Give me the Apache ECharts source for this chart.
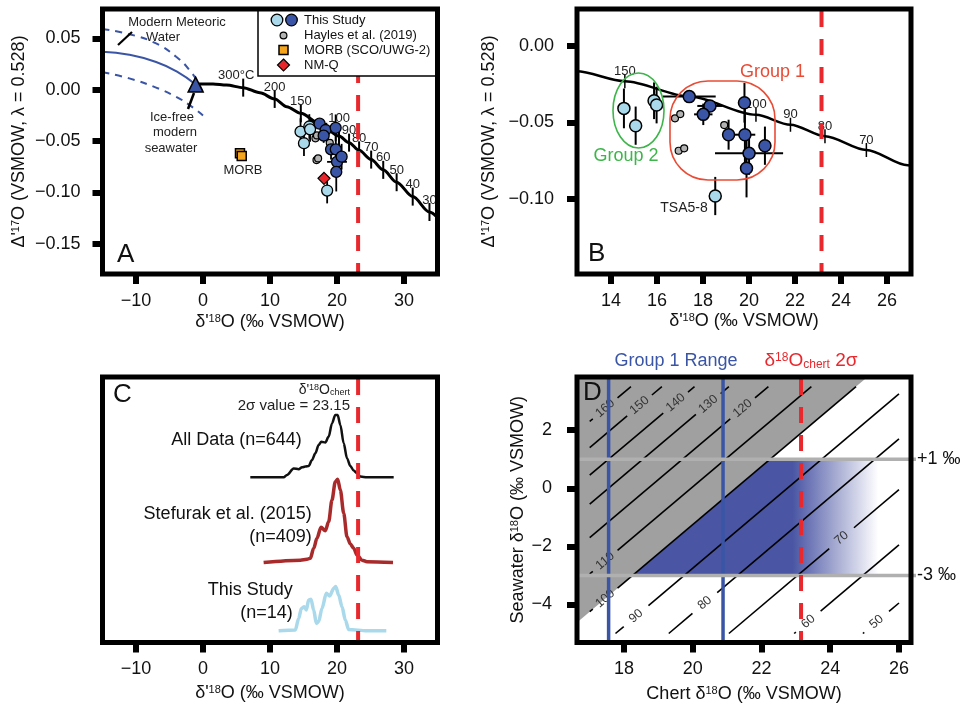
<!DOCTYPE html>
<html>
<head>
<meta charset="utf-8">
<script src="https://cdn.jsdelivr.net/npm/echarts@6/dist/echarts.min.js"></script>
<style>
  html, body { margin: 0; padding: 0; background: #fff; }
  #chart { width: 963px; height: 710px; }
</style>
</head>
<body>
<div id="chart"></div>
<script>
// ---------- data ----------
// This Study, light blue (Group 2 and TSA5-8)
const lightD18 = [14.56, 15.07, 15.87, 15.98, 18.53];
const lightD17 = [-0.0408, -0.0521, -0.0358, -0.0386, -0.0981];
const lightErrX = [0, 0, 0, 0, 0];
const lightErrY = [0.013, 0.0125, 0.012, 0.012, 0.0125];
// This Study, dark blue (Group 1)
const darkD18 = [17.40, 18.30, 18.01, 19.80, 19.11, 19.82, 20.00, 20.69, 19.89];
const darkD17 = [-0.0331, -0.0392, -0.0447, -0.0371, -0.0580, -0.0580, -0.0702, -0.0652, -0.0800];
const darkErrX = [1.15, 0.55, 0.4, 0, 0, 0.45, 1.48, 0, 0];
const darkErrY = [0.002, 0.002, 0.007, 0.013, 0.0098, 0.02, 0.014, 0.0125, 0.019];
// Hayles et al. (2019)
const haylesD18 = [16.78, 17.01, 16.94, 17.18, 18.92];
const haylesD17 = [-0.0473, -0.0445, -0.0685, -0.0669, -0.0517];
// MORB (SCO/UWG-2) and NM-Q
const morbD18 = [5.52, 5.78];
const morbD17 = [-0.0619, -0.0645];
const nmqD18 = [18.06];
const nmqD17 = [-0.0862];
// ice-free modern seawater
const seawaterD18 = [-1.1];
const seawaterD17 = [0.005];
// quartz-water equilibrium curve with temperature marks
const eqD18 = [-1.0, 1.5, 3.5, 6.0, 8.5, 10.7, 12.5, 14.6, 17.4, 20.3, 21.8, 23.3, 25.1, 26.9, 28.9, 31.3, 33.8, 35.5];
const eqD17 = [0.0055, 0.0055, 0.0045, 0.002, -0.003, -0.009, -0.0165, -0.023, -0.033, -0.045, -0.0515, -0.059, -0.068, -0.078, -0.090, -0.104, -0.119, -0.128];
const eqTemp = ['', '', '', '300°C', '', '200', '', '150', '', '100', '90', '80', '70', '60', '50', '40', '30', ''];
// modern meteoric water (centre and envelope)
const mwlD18 = [-15, -11, -7, -4, -1.1];
const mwlD17 = [0.037, 0.034, 0.027, 0.018, 0.005];
const mwlHiD18 = [-15, -11, -7, -4, -2, -0.5, 0.2];
const mwlHiD17 = [0.059, 0.054, 0.045, 0.032, 0.019, 0.004, -0.006];
const mwlLoD18 = [-15, -11, -7, -4, -2, 0];
const mwlLoD17 = [0.017, 0.011, 0.002, -0.007, -0.015, -0.025];
const chert2s = 23.15;
// panel C density curves (relative height, stacked)
const kdeAllX = [7.06, 12.04, 12.54, 13.53, 14.28, 14.78, 15.27, 15.77, 16.27, 16.77, 17.26, 17.66, 18.26, 18.76, 19.25, 19.75, 20.10, 20.50, 21.0, 21.49, 21.99, 22.49, 22.99, 23.48, 24.48, 28.46];
const kdeAllY = [61.8, 61.8, 62.7, 65.1, 64.8, 65.5, 65.8, 66.0, 68.2, 70.7, 73.8, 75.0, 74.7, 76.9, 81.8, 84.9, 84.9, 81.2, 74.4, 68.9, 66.0, 64.3, 63.3, 62.1, 61.8, 61.8];
const kdeStefX = [9.05, 14.53, 15.52, 16.02, 16.52, 17.01, 17.61, 18.26, 18.76, 19.25, 19.75, 20.10, 20.50, 21.0, 21.49, 21.99, 22.49, 22.99, 23.73, 24.48, 28.36];
const kdeStefY = [30.2, 31.1, 31.4, 31.8, 35.5, 39.2, 43.3, 42.0, 45.4, 53.4, 60.2, 61.1, 57.1, 48.5, 39.8, 37.1, 35.5, 33.0, 31.1, 30.5, 30.2];
const kdeThisX = [11.29, 13.78, 14.28, 14.68, 15.12, 15.42, 15.77, 16.12, 16.52, 16.92, 17.26, 17.76, 18.41, 18.91, 19.50, 19.80, 20.25, 20.75, 21.24, 21.74, 24.48, 27.36];
const kdeThisY = [4.9, 5.2, 9.5, 13.2, 13.8, 12.6, 16.3, 16.6, 12.6, 7.7, 8.3, 13.2, 18.8, 17.8, 20.6, 21.3, 18.2, 13.8, 8.9, 5.4, 4.9, 4.9];
// panel D isotherms: chert - seawater offset for each temperature
const contourT = [160, 150, 140, 130, 120, 110, 100, 90, 80, 70, 60, 50];
const contourDelta = [14.7, 15.6, 16.55, 17.55, 18.7, 19.95, 21.25, 22.75, 24.3, 26.05, 27.95, 29.95];
const contourLabelX = [17.45, 18.45, 19.5, 20.45, 21.45, 17.45, 17.45, 18.35, 20.35, 24.33, 23.36, 25.35];
const hotDelta = 21.25;            // >100 °C shaded grey
const group1Range = [17.55, 20.88];
const seawaterRange = [-3, 1];
const seawaterLabels = ['-3 ‰', '+1 ‰'];
const blueFade = [22.9, 25.4];

// ---------- layout ----------
const FONT = 'Liberation Sans, Arial, Helvetica, sans-serif';
const G = [
  { left: 102.5, top: 9, width: 335, height: 265 },
  { left: 577, top: 9, width: 334, height: 265 },
  { left: 102.5, top: 377, width: 335, height: 265.5 },
  { left: 577, top: 377, width: 334, height: 265.5 },
];
const extX = [[-15, 35], [12.52, 27.04], [-15, 35], [16.63, 26.35]];
const extY = [[-0.1793, 0.0785], [-0.1491, 0.0242], [0.56, 99], [-5.31, 3.83]];
const boxX = [17, 26], boxY = [-5, 3.5];

const BLUE = '#3a55a6', LIGHT = '#a9d9ea', RED = '#e8282d';

function fmt(dec) {
  return (v) => (v < 0 ? '\u2212' : '') + Math.abs(v).toFixed(dec);
}
const nameRich = {
  n: { fontSize: 18, fontFamily: FONT, color: '#111' },
  s: { fontSize: 11, fontFamily: FONT, color: '#111', verticalAlign: 'top' },
};

function xAxisOf(i, ticks, dec, name, gap) {
  return {
    type: 'value', gridIndex: i, min: extX[i][0], max: extX[i][1],
    axisLine: { show: false, onZero: false },
    axisTick: { show: true, length: 10, lineStyle: { width: 6, color: '#000' }, customValues: ticks },
    axisLabel: { fontSize: 18, fontFamily: FONT, color: '#111', margin: 18, customValues: ticks, formatter: fmt(dec) },
    splitLine: { show: false },
    name: name, nameLocation: 'middle', nameGap: gap,
    nameTextStyle: { fontSize: 18, fontFamily: FONT, rich: nameRich },
  };
}
function yAxisOf(i, ticks, dec, name, gap, margin) {
  if (!ticks) return { type: 'value', gridIndex: i, min: extY[i][0], max: extY[i][1], show: false };
  return {
    type: 'value', gridIndex: i, min: extY[i][0], max: extY[i][1],
    axisLine: { show: false, onZero: false },
    axisTick: { show: true, length: 10, lineStyle: { width: 6, color: '#000' }, customValues: ticks },
    axisLabel: { fontSize: 18, fontFamily: FONT, color: '#111', margin: margin, customValues: ticks, formatter: fmt(dec) },
    splitLine: { show: false },
    name: name, nameLocation: 'middle', nameGap: gap,
    nameTextStyle: { fontSize: 18, fontFamily: FONT, rich: nameRich },
  };
}

function pairs(xs, ys) { return xs.map((x, i) => [x, ys[i]]); }

function lineSeries(i, xs, ys, style, z, smooth, mono) {
  return {
    type: 'line', xAxisIndex: i, yAxisIndex: i, data: pairs(xs, ys), z: z,
    showSymbol: false, symbol: 'none', smooth: smooth, smoothMonotone: mono ? 'x' : null, clip: true,
    lineStyle: style, silent: true,
  };
}

function scatterSeries(i, xs, ys, symbol, size, color, bw, z) {
  return {
    type: 'scatter', xAxisIndex: i, yAxisIndex: i, data: pairs(xs, ys), z: z,
    symbol: symbol, symbolSize: size,
    itemStyle: { color: color, borderColor: '#000', borderWidth: bw, opacity: 1 },
    silent: true, clip: true,
  };
}

function errorBars(i, lw) {
  const xs = lightD18.concat(darkD18), ys = lightD17.concat(darkD17);
  const ex = lightErrX.concat(darkErrX), ey = lightErrY.concat(darkErrY);
  return {
    type: 'custom', xAxisIndex: i, yAxisIndex: i, z: 3, clip: true, silent: true,
    data: xs.map((x, k) => [x, ys[k], ex[k], ey[k]]),
    renderItem: (params, api) => {
      const x = api.value(0), y = api.value(1), dx = api.value(2), dy = api.value(3);
      const kids = [];
      const st = { stroke: '#000', lineWidth: lw };
      if (dx > 0) {
        const a = api.coord([x - dx, y]), b = api.coord([x + dx, y]);
        kids.push({ type: 'line', shape: { x1: a[0], y1: a[1], x2: b[0], y2: b[1] }, style: st });
      }
      if (dy > 0) {
        const a = api.coord([x, y - dy]), b = api.coord([x, y + dy]);
        kids.push({ type: 'line', shape: { x1: a[0], y1: a[1], x2: b[0], y2: b[1] }, style: st });
      }
      return { type: 'group', children: kids };
    },
  };
}

function curveTicks(i, o) {
  const idx = eqTemp.map((t, k) => k).filter(k => eqTemp[k] && eqD18[k] >= o.lo && eqD18[k] <= o.hi);
  return {
    type: 'custom', xAxisIndex: i, yAxisIndex: i, z: 3, silent: true,
    data: idx.map(k => [eqD18[k], eqD17[k]]),
    renderItem: (params, api) => {
      const t = eqTemp[idx[params.dataIndex]];
      const p = api.coord([api.value(0), api.value(1)]);
      const off = (o.shift && o.shift[t]) || [0, 0];
      return {
        type: 'group', children: [
          { type: 'line', shape: { x1: p[0], y1: p[1] - o.half, x2: p[0], y2: p[1] + o.half }, style: { stroke: '#000', lineWidth: o.lw } },
          { type: 'text', x: p[0] + off[0], y: p[1] - o.dy - off[1],
            style: { text: t, fontSize: o.fs, fontFamily: FONT, fill: '#222', align: 'center', verticalAlign: 'middle' } },
        ],
      };
    },
  };
}

function vLines(i, xs, style, z) {
  return {
    type: 'custom', xAxisIndex: i, yAxisIndex: i, z: z, silent: true,
    data: xs.map(x => [x, 0]),
    renderItem: (params, api) => {
      const a = api.coord([api.value(0), extY[i][1]]), b = api.coord([api.value(0), extY[i][0]]);
      return { type: 'line', shape: { x1: a[0], y1: a[1] + 2, x2: b[0], y2: b[1] }, style: style };
    },
  };
}
const redDash = { stroke: RED, lineWidth: 4, lineDash: [16, 12] };

// ---------- panel D layers ----------
const hotRegion = {
  type: 'custom', xAxisIndex: 3, yAxisIndex: 3, z: 1, silent: true, data: [[0, 0]],
  renderItem: (params, api) => {
    const pts = [[extX[3][0], extX[3][0] - hotDelta], [extY[3][1] + hotDelta, extY[3][1]], [extX[3][0], extY[3][1]]]
      .map(p => api.coord(p));
    return { type: 'polygon', shape: { points: pts }, style: { fill: '#a0a0a0' } };
  },
};
const group1Region = {
  type: 'custom', xAxisIndex: 3, yAxisIndex: 3, z: 1, silent: true, data: [[0, 0]],
  renderItem: (params, api) => {
    const lo = seawaterRange[0], hi = seawaterRange[1];
    const pts = [[lo + hotDelta, lo], [hi + hotDelta, hi], [blueFade[1], hi], [blueFade[1], lo]].map(p => api.coord(p));
    const s = api.coord([blueFade[0], 0])[0], e = api.coord([blueFade[1], 0])[0];
    const fill = new echarts.graphic.LinearGradient(s, 0, e, 0, [
      { offset: 0, color: '#4a55a4' }, { offset: 1, color: '#ffffff' }], true);
    return { type: 'polygon', shape: { points: pts }, style: { fill: fill } };
  },
};
const isotherms = {
  type: 'custom', xAxisIndex: 3, yAxisIndex: 3, z: 2, silent: true,
  data: contourDelta.map((d, k) => [d, contourLabelX[k]]),
  renderItem: (params, api) => {
    const d = api.value(0), lx = api.value(1), t = contourT[params.dataIndex];
    const x0 = Math.max(boxX[0], boxY[0] + d), x1 = Math.min(boxX[1], boxY[1] + d);
    const gap = 0.36;
    const kids = [[x0, lx - gap], [lx + gap, x1]].filter(s => s[1] > s[0]).map(s => {
      const a = api.coord([s[0], s[0] - d]), b = api.coord([s[1], s[1] - d]);
      return { type: 'line', shape: { x1: a[0], y1: a[1], x2: b[0], y2: b[1] }, style: { stroke: '#000', lineWidth: 1.6 } };
    });
    const p = api.coord([lx, lx - d]);
    const q1 = api.coord([lx - 1, lx - 1 - d]), q2 = api.coord([lx + 1, lx + 1 - d]);
    const rot = Math.atan2(q1[1] - q2[1], q2[0] - q1[0]);
    kids.push({ type: 'text', x: p[0], y: p[1], rotation: rot,
      style: { text: String(t), fontSize: 12.5, fontFamily: FONT, fill: '#333', align: 'center', verticalAlign: 'middle' } });
    return { type: 'group', children: kids };
  },
};
const seawaterLines = {
  type: 'custom', xAxisIndex: 3, yAxisIndex: 3, z: 4, silent: true,
  data: seawaterRange.map(v => [extX[3][0], v]),
  renderItem: (params, api) => {
    const v = api.value(1);
    const a = api.coord([extX[3][0], v]), b = api.coord([extX[3][1], v]);
    return {
      type: 'group', children: [
        { type: 'line', shape: { x1: a[0], y1: a[1], x2: b[0] + 5, y2: b[1] }, style: { stroke: '#b0b0b0', lineWidth: 3.5 } },
        { type: 'text', x: b[0] + 6, y: b[1], style: { text: seawaterLabels[params.dataIndex], fontSize: 18, fontFamily: FONT, fill: '#111', align: 'left', verticalAlign: 'middle' } },
      ],
    };
  },
};

// ---------- graphic (frames, legend, annotations) ----------
function txt(x, y, text, size, color, align, extra) {
  return Object.assign({ type: 'text', x: x, y: y, z: 60,
    style: { text: text, fontSize: size, fontFamily: FONT, fill: color || '#222', align: align || 'center', verticalAlign: 'middle' } }, extra || {});
}
const graphics = [];
G.forEach(g => graphics.push({ type: 'rect', z: 100, shape: { x: g.left, y: g.top, width: g.width, height: g.height },
  style: { fill: 'none', stroke: '#000', lineWidth: 5 } }));
// legend of panel A
graphics.push({ type: 'rect', z: 50, shape: { x: 258, y: 9, width: 179, height: 67 }, style: { fill: '#fff', stroke: '#000', lineWidth: 1.5 } });
graphics.push({ type: 'circle', z: 51, shape: { cx: 277, cy: 20, r: 5.8 }, style: { fill: LIGHT, stroke: '#000', lineWidth: 1.3 } });
graphics.push({ type: 'circle', z: 51, shape: { cx: 291.5, cy: 20, r: 5.8 }, style: { fill: BLUE, stroke: '#000', lineWidth: 1.3 } });
graphics.push({ type: 'circle', z: 51, shape: { cx: 283.5, cy: 35.5, r: 3.4 }, style: { fill: '#b3b3b3', stroke: '#000', lineWidth: 1.2 } });
graphics.push({ type: 'rect', z: 51, shape: { x: 279, y: 45.5, width: 9, height: 9 }, style: { fill: '#f5a41d', stroke: '#000', lineWidth: 1.5 } });
graphics.push({ type: 'polygon', z: 51, shape: { points: [[283.5, 59], [289.5, 65], [283.5, 71], [277.5, 65]] }, style: { fill: '#e8252a', stroke: '#000', lineWidth: 1.2 } });
graphics.push(txt(304, 20, 'This Study', 13, '#111', 'left'));
graphics.push(txt(304, 35, 'Hayles et al. (2019)', 13, '#111', 'left'));
graphics.push(txt(304, 50, 'MORB (SCO/UWG-2)', 13, '#111', 'left'));
graphics.push(txt(304, 65, 'NM-Q', 13, '#111', 'left'));
// panel A notes
graphics.push(txt(117, 255, 'A', 26, '#111', 'left'));
graphics.push(txt(177, 22, 'Modern Meteoric', 13));
graphics.push(txt(163, 37, 'Water', 13));
graphics.push({ type: 'line', z: 60, shape: { x1: 118, y1: 45, x2: 132, y2: 32 }, style: { stroke: '#000', lineWidth: 2.2 } });
graphics.push(txt(172, 117, 'Ice-free', 13));
graphics.push(txt(175, 132, 'modern', 13));
graphics.push(txt(171, 148, 'seawater', 13));
graphics.push({ type: 'line', z: 60, shape: { x1: 194, y1: 93, x2: 188, y2: 109 }, style: { stroke: '#000', lineWidth: 2.5 } });
graphics.push(txt(243, 170, 'MORB', 13));
// panel B notes
graphics.push(txt(588, 254, 'B', 26, '#111', 'left'));
graphics.push({ type: 'ellipse', z: 60, shape: { cx: 638.5, cy: 110.5, rx: 25.5, ry: 37.5 }, style: { fill: 'none', stroke: '#3db54a', lineWidth: 1.6 } });
graphics.push({ type: 'rect', z: 60, shape: { x: 670, y: 81, width: 105, height: 99, r: 38 }, style: { fill: 'none', stroke: '#e94b35', lineWidth: 1.6 } });
graphics.push(txt(772.5, 72.5, 'Group 1', 18, '#e94b35'));
graphics.push(txt(626, 156, 'Group 2', 18, '#3db54a'));
graphics.push(txt(684, 208.5, 'TSA5-8', 14, '#222'));
// panel C notes
graphics.push(txt(113, 395, 'C', 26, '#111', 'left'));
graphics.push({ type: 'text', z: 60, x: 350, y: 390, style: {
  text: "{a|δ'}{s|18}{a|O}{b|chert}", fontFamily: FONT, fill: '#222', align: 'right', verticalAlign: 'middle',
  rich: { a: { fontSize: 14, fontFamily: FONT }, s: { fontSize: 9, fontFamily: FONT, verticalAlign: 'top' }, b: { fontSize: 9, fontFamily: FONT, verticalAlign: 'bottom' } } } });
graphics.push(txt(350, 406, '2σ value = 23.15', 15, '#222', 'right'));
graphics.push(txt(301.7, 440, 'All Data (n=644)', 18, '#111', 'right'));
graphics.push(txt(311.7, 514, 'Stefurak et al. (2015)', 18, '#111', 'right'));
graphics.push(txt(311.7, 537.5, '(n=409)', 18, '#111', 'right'));
graphics.push(txt(292.7, 590, 'This Study', 18, '#111', 'right'));
graphics.push(txt(292.7, 613, '(n=14)', 18, '#111', 'right'));
// panel D notes
graphics.push(txt(583, 393, 'D', 26, '#111', 'left'));
graphics.push(txt(676, 361, 'Group 1 Range', 18, BLUE));
graphics.push({ type: 'text', z: 60, x: 811, y: 361, style: {
  text: '{a|δ}{s|18}{a|O}{b|chert}{a| 2σ}', fontFamily: FONT, fill: RED, align: 'center', verticalAlign: 'middle',
  rich: { a: { fontSize: 19, fontFamily: FONT, color: RED }, s: { fontSize: 12, fontFamily: FONT, color: RED, verticalAlign: 'top' }, b: { fontSize: 12, fontFamily: FONT, color: RED, verticalAlign: 'bottom' } } } });

// ---------- option ----------
const option = {
  backgroundColor: '#fff',
  animation: false,
  textStyle: { fontFamily: FONT },
  grid: G.map(g => Object.assign({ show: false, containLabel: false }, g)),
  xAxis: [
    xAxisOf(0, [-10, 0, 10, 20, 30], 0, "{n|δ'}{s|18}{n|O (‰ VSMOW)}", 39),
    xAxisOf(1, [14, 16, 18, 20, 22, 24, 26], 0, "{n|δ'}{s|18}{n|O (‰ VSMOW)}", 38),
    xAxisOf(2, [-10, 0, 10, 20, 30], 0, "{n|δ'}{s|18}{n|O (‰ VSMOW)}", 42),
    xAxisOf(3, [18, 20, 22, 24, 26], 0, '{n|Chert δ}{s|18}{n|O (‰ VSMOW)}', 43),
  ],
  yAxis: [
    yAxisOf(0, [-0.15, -0.1, -0.05, 0, 0.05], 2, "{n|Δ'}{s|17}{n|O (VSMOW, λ = 0.528)}", 74, 22),
    yAxisOf(1, [-0.15, -0.1, -0.05, 0], 2, "{n|Δ'}{s|17}{n|O (VSMOW, λ = 0.528)}", 79, 23),
    yAxisOf(2, null),
    yAxisOf(3, [-4, -2, 0, 2], 0, '{n|Seawater δ}{s|18}{n|O (‰ VSMOW)}', 50, 25),
  ],
  series: [
    // A
    lineSeries(0, mwlHiD18, mwlHiD17, { color: BLUE, width: 2, type: [7, 6] }, 2, 0.5, false),
    lineSeries(0, mwlD18, mwlD17, { color: BLUE, width: 2 }, 2, 0.5, false),
    lineSeries(0, mwlLoD18, mwlLoD17, { color: BLUE, width: 2, type: [7, 6] }, 2, 0.5, false),
    lineSeries(0, eqD18, eqD17, { color: '#000', width: 3 }, 2, 0.3, true),
    curveTicks(0, { lo: -20, hi: 40, half: 9, dy: 12, fs: 13, lw: 2, shift: { '100': [0, 6], '300°C': [-7, 0] } }),
    errorBars(0, 1.8),
    scatterSeries(0, haylesD18, haylesD17, 'circle', 7, '#b3b3b3', 1.2, 4),
    scatterSeries(0, lightD18, lightD17, 'circle', 11, LIGHT, 1.3, 5),
    scatterSeries(0, darkD18, darkD17, 'circle', 11, BLUE, 1.3, 5),
    scatterSeries(0, morbD18, morbD17, 'rect', 9, '#f5a41d', 1.5, 5),
    scatterSeries(0, nmqD18, nmqD17, 'diamond', 12, '#e8252a', 1.2, 5),
    scatterSeries(0, seawaterD18, seawaterD17, 'triangle', 15, BLUE, 1.5, 6),
    vLines(0, [chert2s], redDash, 7),
    // B
    lineSeries(1, eqD18, eqD17, { color: '#000', width: 2.5 }, 2, 0.3, true),
    curveTicks(1, { lo: 13, hi: 26, half: 7, dy: 10, fs: 13, lw: 1.5 }),
    errorBars(1, 2),
    scatterSeries(1, haylesD18, haylesD17, 'circle', 7, '#b3b3b3', 1.2, 4),
    scatterSeries(1, lightD18, lightD17, 'circle', 12, LIGHT, 1.5, 5),
    scatterSeries(1, darkD18, darkD17, 'circle', 12, BLUE, 1.5, 5),
    vLines(1, [chert2s], redDash, 7),
    // C
    lineSeries(2, kdeAllX, kdeAllY, { color: '#111', width: 2.5 }, 2, 0.3, true),
    lineSeries(2, kdeStefX, kdeStefY, { color: '#a82a2a', width: 3.5 }, 2, 0.3, true),
    lineSeries(2, kdeThisX, kdeThisY, { color: LIGHT, width: 3.5 }, 2, 0.3, true),
    vLines(2, [chert2s], redDash, 7),
    // D
    hotRegion,
    group1Region,
    isotherms,
    vLines(3, group1Range, { stroke: BLUE, lineWidth: 3.5 }, 3),
    seawaterLines,
    vLines(3, [chert2s], redDash, 7),
  ],
  graphic: { elements: graphics },
};

const chart = echarts.init(document.getElementById('chart'));
chart.setOption(option);
</script>
</body>
</html>
